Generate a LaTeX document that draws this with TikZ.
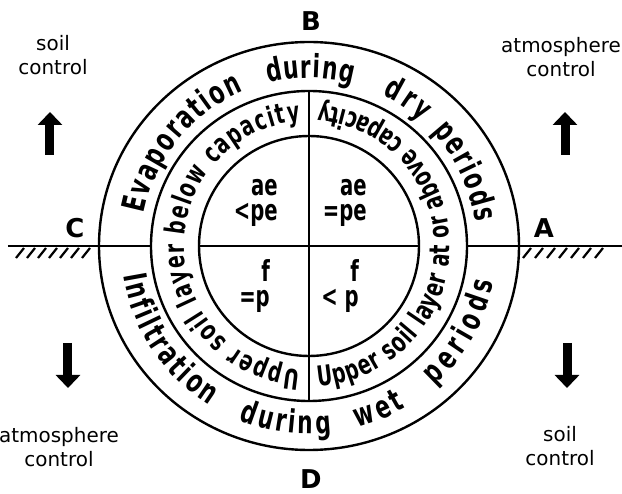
\documentclass[tikz,border=0pt]{standalone}
\usepackage{fontspec}
\setmainfont{DejaVu Sans}
\newfontfamily\ringfont[FakeStretch=0.68]{DejaVu Sans}
\usetikzlibrary{decorations.text, arrows.meta}

\tikzset{
  ring/.style={line width=2.4bp},
  hatch/.style={line width=2.2bp},
  letter/.style={font=\bfseries\fontsize{26}{26}\selectfont},
  side/.style={align=center, font=\fontsize{20}{24}\selectfont},
  bigarrow/.style={line width=9bp, -{Triangle[length=13bp, width=24bp]}},
  outertext/.style={decorate, decoration={text along path, text align={fit to path},
      text={|\ringfont\bfseries\fontsize{32}{32}\selectfont|#1}}},
  midtext/.style={decorate, decoration={text along path, text align={fit to path},
      text={|\ringfont\bfseries\fontsize{28}{28}\selectfont|#1}}},
  quad/.style={anchor=east, align=right, inner sep=0pt,
      font=\ringfont\bfseries\fontsize{29}{25}\selectfont}
}

\begin{document}
\begin{tikzpicture}[x=1bp, y=1bp]
    \useasboundingbox (-309,-248) rectangle (313,246);

    % Rings
    \draw[ring] (0,0) ellipse [x radius=210, y radius=204];
    \draw[ring] (0,0) ellipse [x radius=158, y radius=155];
    \draw[ring] (0,0) circle [radius=110];

    % Ground line and cross
    \coordinate (west) at (-301,0);
    \coordinate (east) at (313,0);
    \coordinate (midW) at (-158,0);
    \coordinate (midE) at (158,0);
    \coordinate (inW) at (-110,0);
    \coordinate (inE) at (110,0);
    \coordinate (midN) at (0,155);
    \coordinate (midS) at (0,-155);
    \draw[ring] (west) -- (midW);
    \draw[ring] (midE) -- (east);
    \draw[ring] (inW) -- (inE);
    \draw[ring] (midN) -- (midS);

    % Hatching below the ground
    \foreach \x in {-293,-282,...,-227}
        \draw[hatch] (\x,-12) -- ++(8,10);
    \foreach \x in {214,226,...,286}
        \draw[hatch] (\x,-12) -- ++(8,10);

    % Points
    \node[letter] (B) at (2,225) {B};
    \node[letter] (D) at (2,-233) {D};
    \node[letter] (C) at (-234,18) {C};
    \node[letter] (A) at (235,18) {A};

    % Controls
    \node[side] (ctlNW) at (-256,191) {soil\\control};
    \node[side] (ctlNE) at (252,189) {atmosphere\\control};
    \node[side] (ctlSW) at (-250,-201) {atmosphere\\control};
    \node[side] (ctlSE) at (251,-200) {soil\\control};

    % Arrows
    \coordinate (upNW) at (-259,91);
    \coordinate (upNE) at (256,91);
    \coordinate (dnSW) at (-241,-97);
    \coordinate (dnSE) at (258,-97);
    \draw[bigarrow] (upNW) -- ++(0,43);
    \draw[bigarrow] (upNE) -- ++(0,43);
    \draw[bigarrow] (dnSW) -- ++(0,-45);
    \draw[bigarrow] (dnSE) -- ++(0,-45);

    % Outer ring, dry periods
    \path[outertext=Evaporation] (169:168) arc[start angle=169, end angle=113, radius=168];
    \path[outertext=during] (104:168) arc[start angle=104, end angle=75, radius=168];
    \path[outertext=dry] (64:168) arc[start angle=64, end angle=48, radius=168];
    \path[outertext=periods] (43:168) arc[start angle=43, end angle=8, radius=168];

    % Outer ring, wet periods
    \path[outertext=Infiltration] (189:188) arc[start angle=189, end angle=238, radius=188];
    \path[outertext=during] (248:188) arc[start angle=248, end angle=277, radius=188];
    \path[outertext=wet] (285:188) arc[start angle=285, end angle=301, radius=188];
    \path[outertext=periods] (312:188) arc[start angle=312, end angle=349, radius=188];

    % Middle ring
    \path[midtext=Upper soil layer below capacity] (266:125) arc[start angle=266, end angle=94, radius=125];
    \path[midtext=Upper soil layer at or above capacity] (274:141) arc[start angle=274, end angle=446, radius=141];

    % Quadrants
    \node[quad] (qNW) at (-31,43) {ae\\<pe};
    \node[quad] (qNE) at (58,43) {ae\\=pe};
    \node[quad] (qSW) at (-39,-40) {f\\=p};
    \node[quad] (qSE) at (50,-40) {f\\< p};
\end{tikzpicture}
\end{document}
